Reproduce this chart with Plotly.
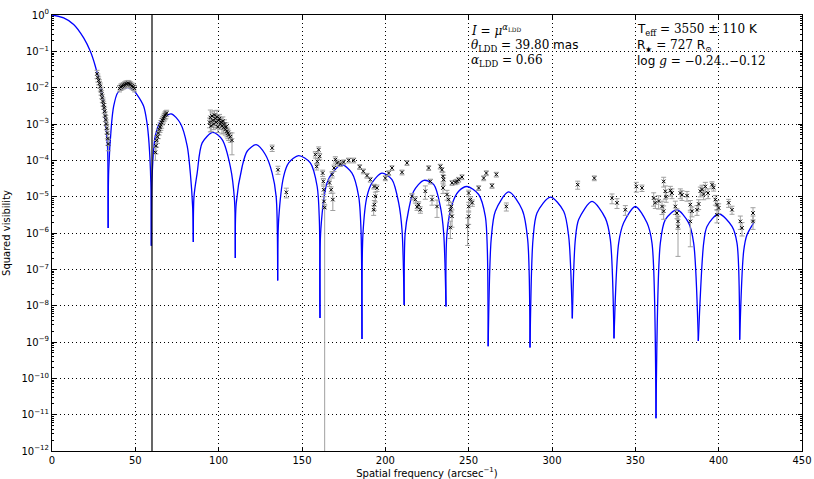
import numpy as np
import plotly.graph_objects as go

# ---------------- model curve (x in arcsec^-1, log10 V^2) --------------
# one list per lobe (null to null)
lobes_x = [
    [0, 7, 13, 19, 23, 26, 29, 31, 32.4, 33.4, 33.6, 33.7],
    [33.7, 34.0, 35.6, 37.0, 39.4, 42.5, 46.0, 49.0, 51.0, 55.0, 57.0, 58.2, 59.3, 59.6],
    [59.6, 60.0, 62.1, 66.1, 71.5, 77.0, 81.1, 83.0, 84.4, 84.8],
    [84.8, 85.2, 87.1, 90.1, 96.5, 102.1, 107.0, 109.5, 110.0],
    [110.0, 110.5, 114.1, 117.1, 122.5, 128.0, 132.1, 134.5, 135.4],
    [135.4, 136.0, 139.0, 142.0, 148.0, 155.0, 159.1, 160.4, 160.8],
    [160.8, 161.3, 165.0, 168.1, 174.0, 180.0, 184.0, 185.4, 186.0],
    [186.0, 186.6, 189.0, 192.0, 198.0, 204.0, 208.0, 210.0, 211.3],
    [211.3, 211.9, 214.0, 217.0, 223.1, 229.1, 233.0, 235.0, 236.4],
    [236.4, 237.0, 240.1, 244.0, 249.0, 256.0, 260.0, 261.2, 261.7],
    [261.7, 263.5, 266.0, 274.0, 282.1, 285.4, 286.8],
    [286.8, 288.6, 291.0, 299.0, 307.0, 310.0, 312.2],
    [312.2, 314.0, 316.0, 324.0, 332.0, 335.0, 337.2],
    [337.2, 340.0, 343.0, 350.0, 357.0, 360.0, 362.4],
    [362.4, 365.0, 368.0, 375.0, 382.0, 385.0, 387.8],
    [387.8, 391.0, 393.0, 400.0, 408.0, 411.0, 412.6],
    [412.6, 415.0, 417.0, 421.0],
]
lobes_logv2 = [
    [0.0, -0.08, -0.26, -0.63, -1.0, -1.41, -1.96, -2.51, -3.06, -3.71, -4.5, -5.86],
    [-5.86, -4.3, -3.06, -2.51, -2.14, -2.03, -2.0, -2.08, -2.19, -2.51, -2.97, -3.52, -4.6, -6.35],
    [-6.35, -4.5, -3.3, -2.86, -2.72, -2.98, -3.6, -4.35, -5.3, -6.25],
    [-6.25, -5.0, -4.35, -3.52, -3.23, -3.43, -4.17, -5.1, -6.69],
    [-6.69, -5.2, -4.17, -3.75, -3.57, -3.84, -4.35, -5.0, -7.31],
    [-7.31, -5.63, -4.44, -4.07, -3.87, -4.07, -4.72, -5.63, -8.34],
    [-8.34, -5.9, -4.62, -4.35, -4.12, -4.35, -4.99, -5.91, -8.92],
    [-8.92, -6.0, -4.99, -4.62, -4.35, -4.53, -5.17, -5.91, -7.98],
    [-7.98, -6.0, -5.36, -4.85, -4.55, -4.67, -5.27, -6.0, -8.02],
    [-8.02, -6.0, -5.2, -4.85, -4.72, -4.94, -5.54, -6.46, -9.12],
    [-9.12, -6.18, -5.40, -4.87, -5.36, -6.18, -9.15],
    [-9.15, -6.18, -5.45, -5.01, -5.40, -6.09, -8.35],
    [-8.35, -6.18, -5.63, -5.13, -5.59, -6.18, -8.90],
    [-8.90, -6.28, -5.72, -5.27, -5.72, -6.28, -11.10],
    [-11.10, -6.28, -5.63, -5.36, -5.72, -6.28, -8.97],
    [-8.97, -6.28, -5.82, -5.47, -5.82, -6.28, -8.94],
    [-8.94, -6.5, -6.05, -5.72],
]

# ---------------- measured squared visibilities (x, log10 V^2, relative error) -------------
obs_freq = [
    27.0, 27.5, 28.0, 28.5, 29.0, 29.4, 29.8, 30.2, 30.6, 31.0, 31.3, 31.6, 32.0, 32.3, 32.6, 32.9, 33.2, 33.5, 33.8,
    40.5, 41.3, 42.0, 42.8, 43.5, 44.2, 45.0, 45.8, 46.5, 47.2, 48.0, 48.8, 49.5,
    62.0, 62.4, 62.8, 63.3, 63.8, 64.3, 64.8, 65.3, 65.8, 66.3, 66.8, 67.3, 67.8, 68.3, 68.8,
    94.5, 95.0, 95.5, 96.0, 96.5, 97.0, 97.5, 98.0, 98.5, 99.0, 99.5, 100.0, 100.5, 101.0, 101.5, 102.0,
    102.5, 103.0, 103.5, 104.0, 104.5, 105.0, 105.5, 106.0, 107.0, 108.0,
    132.1, 135.6, 140.6,
    158.0, 158.8, 159.2, 160.0, 160.6,
    162.4, 162.8, 163.0, 163.2,
    166.5, 167.5, 168.1, 168.5, 169.2, 170.0, 171.2,
    173.0, 175.0, 178.0, 181.0,
    184.6, 186.8, 189.0, 191.0, 193.2,
    193.0, 193.4, 194.0, 195.0,
    200.0, 202.0, 204.0, 210.0, 213.0,
    216.0, 218.0, 219.0, 220.0, 221.0,
    224.0, 226.0, 227.0, 228.0, 231.0,
    233.0, 234.0, 234.6, 235.0, 234.6,
    237.0, 238.0, 239.0, 239.6, 240.0, 239.0,
    240.0, 242.0, 243.0, 244.0, 246.0,
    250.0, 251.0, 252.2, 250.0, 250.0, 249.4,
    256.0, 259.0, 260.6, 264.0, 266.6, 272.6,
    315.4, 325.4, 336.0, 339.0, 344.0, 350.6, 354.0,
    361.0, 362.0, 364.0, 366.0, 367.0, 367.0, 368.0, 368.5,
    371.0, 372.0, 374.0, 375.0, 375.6, 375.6,
    377.0, 378.0, 381.0, 383.0, 384.0, 383.0,
    387.0, 388.0, 389.0, 390.0, 391.0, 392.0, 393.6, 396.0, 397.0,
    398.0, 399.0, 400.0, 399.0, 406.0, 408.0, 413.0, 414.0, 420.6, 420.6,
]
obs_logv2 = [
    -1.62, -1.72, -1.80, -1.88, -1.97, -2.08, -2.18, -2.28, -2.38, -2.47, -2.55, -2.65, -2.78, -2.88, -3.0, -3.12, -3.25, -3.4, -3.55,
    -2.02, -1.98, -1.96, -1.94, -1.92, -1.90, -1.89, -1.88, -1.90, -1.92, -1.95, -1.98, -2.02,
    -3.78, -3.6, -3.45, -3.35, -3.25, -3.15, -3.08, -3.02, -2.96, -2.90, -2.85, -2.80, -2.76, -2.73, -2.70,
    -2.95, -2.82, -3.05, -2.78, -2.90, -3.00, -2.75, -2.85, -2.95, -2.80, -3.08, -2.90, -2.85, -3.00, -2.95, -3.05,
    -2.92, -3.10, -3.00, -3.15, -3.08, -3.20, -3.25, -3.30, -3.35, -3.45,
    -3.66, -4.26, -4.88,
    -3.84, -4.17, -4.03, -3.71, -3.89,
    -4.35, -4.58, -4.81, -5.13,
    -4.62, -4.81, -4.39, -5.08, -4.21, -3.98, -4.07,
    -4.10, -4.05, -4.00, -4.00,
    -4.18, -4.30, -4.42, -4.53, -4.72,
    -5.36, -5.22, -4.99, -4.76,
    -4.49, -4.35, -4.21, -4.33, -4.07,
    -4.99, -5.08, -5.28, -5.22, -5.36,
    -4.85, -4.21, -4.58, -5.08, -5.27,
    -4.17, -4.26, -4.44, -4.53, -4.76,
    -4.94, -5.08, -5.36, -5.27, -5.54, -5.85,
    -4.62, -4.60, -4.58, -4.53, -4.46,
    -4.90, -5.08, -5.17, -5.27, -5.54, -5.82,
    -4.76, -4.49, -4.35, -4.70, -4.39, -5.27,
    -4.67, -4.49, -5.04, -5.17, -5.36, -4.72, -4.76,
    -5.04, -5.17, -5.12, -5.27, -5.40, -4.58, -4.85, -5.0,
    -4.83, -4.90, -5.27, -5.45, -5.68, -5.82,
    -4.90, -4.95, -4.97, -5.22, -5.40, -5.68,
    -5.36, -5.20, -4.85, -4.80, -4.93, -4.72, -4.90, -4.67, -4.75,
    -5.08, -5.22, -5.31, -5.50, -5.17, -5.36, -5.68, -5.86, -5.45, -5.68,
]
obs_relerr = [
    .25, .25, .25, .25, .25, .25, .25, .25, .25, .25, .3, .3, .3, .3, .3, .3, .3, .35, .35,
    .2, .2, .2, .2, .2, .2, .2, .2, .2, .2, .2, .2, .2,
    .4, .4, .35, .35, .3, .3, .3, .3, .3, .25, .25, .25, .25, .25, .2,
    .3, .6, .3, .3, .3, .3, .3, .3, .3, .5, .3, .3, .3, .3, .3, .4,
    .3, .3, .3, .3, .3, .3, .3, .3, .3, .6,
    .2, .25, .3,
    .2, .2, .2, .2, .2,
    .2, .2, .25, .35,
    .2, .2, .2, .5, .2, .2, .2,
    .15, .15, .15, .15,
    .15, .15, .15, .15, .15,
    .3, .3, .3, .2,
    .15, .15, .15, .15, .15,
    .2, .2, .2, .2, .2,
    .4, .15, .15, .3, .5,
    .15, .15, .3, .3, .3,
    .3, .3, .3, .3, .5, .5,
    .15, .15, .15, .15, .15,
    .2, .2, .2, .3, .4, .7,
    .15, .15, .15, .15, .15, .25,
    .25, .15, .3, .3, .3, .3, .2,
    .4, .3, .4, .4, .4, .3, .4, .3,
    .3, .3, .4, .3, .4, .85,
    .3, .3, .3, .3, .3, .8,
    .3, .3, .3, .3, .3, .3, .3, .2, .2,
    .3, .3, .3, .4, .25, .25, .4, .4, .4, .4,
]

# point whose lower error bar reaches zero
zero_pt_freq = [163.6]
zero_pt_logv2 = [-5.30]

# reference vertical line
vline_freq = 60.0

# annotation texts
ann_left = ["<i>I</i> = <i>μ</i><sup><i>α</i><sub>LDD</sub></sup>",
            "<i>θ</i><sub>LDD</sub> = 39.80 <span style='font-family:DejaVu Sans'>mas</span>",
            "<i>α</i><sub>LDD</sub> = 0.66"]
ann_right = ["<span style='font-family:DejaVu Sans'>T</span><sub>eff</sub> = 3550 ± 110 <span style='font-family:DejaVu Sans'>K</span>",
             "<span style='font-family:DejaVu Sans'>R</span><sub>★</sub> = 727 <span style='font-family:DejaVu Sans'>R</span><sub>⊙</sub>",
             "<span style='font-family:DejaVu Sans'>log</span> <i>g</i> = −0.24..−0.12"]

y_exponents = list(range(-12, 1))
x_ticks = list(range(0, 451, 50))

# ---------------- build figure ----------------
fig = go.Figure()

cx, cy = [], []
for lx, ly in zip(lobes_x, lobes_logv2):
    cx += lx + [None]
    cy += [10.0 ** v for v in ly] + [None]
fig.add_trace(go.Scatter(x=cx, y=cy, mode="lines", line=dict(color="#0000ff", width=1.3, shape="spline", smoothing=0.8),
                         connectgaps=False, hoverinfo="skip", showlegend=False))

v = 10.0 ** np.array(obs_logv2)
e = v * np.array(obs_relerr)
fig.add_trace(go.Scatter(
    x=obs_freq, y=v, mode="markers",
    marker=dict(symbol="x-thin", size=3.5, line=dict(color="black", width=1), color="black"),
    error_y=dict(type="data", array=e, arrayminus=e, color="#a0a0a0", thickness=1, width=2.5),
    showlegend=False))

vz = 10.0 ** np.array(zero_pt_logv2)
fig.add_trace(go.Scatter(
    x=zero_pt_freq, y=vz, mode="markers",
    marker=dict(symbol="x-thin", size=3.5, line=dict(color="black", width=1), color="black"),
    error_y=dict(type="data", array=vz * 0.2, arrayminus=vz * (1 - 1e-10), color="#a0a0a0", thickness=1, width=2.5),
    showlegend=False))

fig.add_shape(type="line", xref="x", yref="paper", x0=vline_freq, x1=vline_freq, y0=0, y1=1,
              line=dict(color="black", width=1.2))

line_y = [0.966, 0.929, 0.895]
for i, t in enumerate(ann_left):
    fig.add_annotation(x=250, y=line_y[i], xref="x", yref="paper", text=t, showarrow=False,
                       xanchor="left", yanchor="middle", font=dict(family="DejaVu Serif", size=12, color="black"))
for i, t in enumerate(ann_right):
    fig.add_annotation(x=350, y=line_y[i], xref="x", yref="paper", text=t, showarrow=False,
                       xanchor="left", yanchor="middle", font=dict(family="DejaVu Serif", size=12, color="black"))

axis_common = dict(showline=True, linecolor="black", linewidth=1, mirror="allticks",
                   ticks="inside", ticklen=4, tickcolor="black",
                   showgrid=True, gridcolor="black", gridwidth=1, griddash="1px,3px", zeroline=False,
                   tickfont=dict(family="DejaVu Sans", size=10, color="black"))

fig.update_xaxes(range=[0, 450], tickvals=x_ticks, ticktext=[str(t) for t in x_ticks],
                 title=dict(text="Spatial frequency (arcsec<sup>−1</sup>)", font=dict(family="DejaVu Sans", size=10, color="black"), standoff=4),
                 automargin=False, **axis_common)
fig.update_yaxes(type="log", range=[-12, 0],
                 tickvals=[10.0 ** k for k in y_exponents],
                 ticktext=["10<sup>%s</sup>" % (("−" + str(-k)) if k < 0 else str(k)) for k in y_exponents],
                 minor=dict(ticks="inside", ticklen=2, tickcolor="black", dtick="D1", showgrid=False),
                 title=dict(text="Squared visibility", font=dict(family="DejaVu Sans", size=10, color="black"), standoff=8),
                 automargin=False, **axis_common)

fig.update_layout(width=814, height=479, margin=dict(l=52, r=12, t=15, b=28),
                  paper_bgcolor="white", plot_bgcolor="white", showlegend=False)

fig.write_html("out.html")
